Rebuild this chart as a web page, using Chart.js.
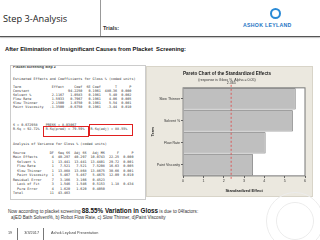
<!DOCTYPE html>
<html>
<head>
<meta charset="utf-8">
<script src="https://cdn.jsdelivr.net/npm/chart.js@4"></script>
<style>
  body { margin: 0; width: 320px; height: 240px; background: #fff; position: relative; overflow: hidden; font-family: "Liberation Sans", Arial, sans-serif; }
  .abs { position: absolute; white-space: nowrap; }
  #title { left: 3px; top: 12px; font-size: 9.2px; font-family: "Open Sans", sans-serif; color: #222; }
  #vline { left: 100px; top: 0; width: 1px; height: 36px; background: #999; }
  #hline { left: 0; top: 36px; width: 320px; height: 1px; background: #555; box-shadow: 0 1px 1px #bbb; }
  #trials { left: 103px; top: 25px; font-size: 5.5px; font-weight: bold; color: #333; }
  #logoTxt { left: 243px; top: 22px; font-size: 5.2px; font-weight: bold; color: #1d74c4; letter-spacing: 0.3px; }
  #logoIcon { left: 270px; top: 8px; width: 11px; height: 11px; border-radius: 50%; border: 2px solid #2a8ad6; box-sizing: border-box; }
  #sub { left: 5px; top: 46px; font-size: 5.8px; font-weight: bold; color: #111; }
  #panel { left: 10px; top: 65px; width: 134px; height: 133px; border: 1px solid #ccc; background: #fff; overflow: hidden; }
  #panelHead { left: 2px; top: -1px; font-size: 3.6px; font-weight: bold; line-height: 5px; color: #333; }
  pre { position: absolute; left: 2px; margin: 0; font-family: "DejaVu Sans Mono", monospace; font-size: 3.4px; color: #333; }
  .box { position: absolute; border: 1px solid #e02020; }
  #wrap { left: 146px; top: 66px; width: 167px; height: 131px; background: #ebe8df; border: 1px solid #d8d4c8; box-sizing: border-box; overflow: hidden; }
  #wrap canvas { position: absolute; left: -1px; top: -1px; }
  #bot1 { left: 8px; top: 207px; font-size: 4.6px; color: #333; }
  #bot1 b { font-size: 6.3px; color: #111; }
  #bot2 { left: 11px; top: 215px; font-size: 4.6px; color: #333; }
  #foot { left: 8px; top: 231px; font-size: 3.8px; color: #444; }
  .fbar { position: absolute; top: 228px; width: 1px; height: 12px; background: #777; }
  #wm { left: 266px; top: 192px; width: 56px; height: 56px; border-radius: 50%; border: 1px solid #ececec; }
  #wm2 { left: 276px; top: 202px; width: 36px; height: 36px; border-radius: 50%; border: 1px solid #ececec; }
</style>
</head>
<body>
<div class="abs" id="title">Step 3-Analysis</div>
<div class="abs" id="vline"></div>
<div class="abs" id="trials">Trials:</div>
<div class="abs" id="logoIcon"></div>
<div class="abs" id="logoTxt">ASHOK LEYLAND</div>
<div class="abs" id="hline"></div>
<div class="abs" id="sub">After Elimination of Insignificant Causes from Placket&nbsp; Screening:</div>

<div class="abs" id="panel">
  <div class="abs" id="panelHead">Placket Screening Step 2</div>
<pre style="top:10.7px;line-height:4.1px">Estimated Effects and Coefficients for Gloss % (coded units)

Term               Effect     Coef  SE Coef       T      P
Constant                   94.2250   0.1961  480.36  0.000
Solvent %          2.1167   1.0583   0.1961    5.40  0.002
Flow Rate          1.5933   0.7967   0.1961    4.06  0.005
Slow Thinner       2.1500   1.0750   0.1961    5.54  0.001
Paint Viscosity   -1.3500  -0.6750   0.1961   -3.44  0.010</pre>
<pre style="top:56.6px;line-height:4.7px">S = 0.672958    PRESS = 8.03067
R-Sq = 92.72%   R-Sq(pred) = 79.59%   R-Sq(adj) = 88.55%</pre>
<pre style="top:75.7px;line-height:4.5px">Analysis of Variance for Gloss % (coded units)

Source            DF  Seq SS  Adj SS   Adj MS      F      P
Main Effects       4  40.297  40.297  10.0743  22.25  0.000
  Solvent %        1  13.441  13.441  13.4401  29.72  0.001
  Flow Rate        1   7.521   7.521   7.5208  16.63  0.005
  Slow Thinner     1  13.868  13.868  13.8675  30.66  0.001
  Paint Viscosity  1   5.467   5.467   5.4675  12.09  0.010
Residual Error     7   3.166   3.166   0.4523
  Lack of Fit      3   1.546   1.546   0.5153   1.18  0.434
  Pure Error       4   1.620   1.620   0.4050
Total             11  43.463</pre>
  <div class="box" style="left:32px;top:60px;width:44px;height:9px"></div>
  <div class="box" style="left:78px;top:58px;width:42px;height:10px"></div>
</div>

<div class="abs" id="wrap"><canvas id="canvasPareto" width="167" height="131"></canvas></div>

<div class="abs" id="bot1">Now according to placket screening <b>88.55% Variation in Gloss</b> is due to 04factors:</div>
<div class="abs" id="bot2">a)ED Bath Solvent%, b) Robot Flow Rate, c) Slow Thinner, d)Paint Viscosity</div>
<div class="abs" id="wm"></div>
<div class="abs" id="wm2"></div>
<div class="fbar" style="left:17px"></div>
<div class="fbar" style="left:43px"></div>
<div class="abs" id="foot">19<span style="margin-left:12px">3/3/2017</span><span style="margin-left:12px">Ashok Leyland Presentation</span></div>

<script>
const terms = ['Slow Thinner', 'Solvent %', 'Flow Rate', 'Paint Viscosity'];
const effects = [5.54, 5.40, 4.06, 3.44];
const xTicks = [0, 1, 2, 3, 4, 5, 6];
const critical = 2.365;

const refLine = {
    id: 'refLine',
    beforeDraw(chart) {
        const { ctx, chartArea } = chart;
        ctx.save();
        ctx.fillStyle = '#fff';
        ctx.fillRect(chartArea.left, chartArea.top, chartArea.right - chartArea.left, chartArea.bottom - chartArea.top);
        ctx.restore();
    },
    afterDatasetsDraw(chart) {
        const { ctx, chartArea } = chart;
        const x = chart.scales.x.getPixelForValue(critical);
        ctx.save();
        ctx.strokeStyle = '#e04040';
        ctx.lineWidth = 0.8;
        ctx.setLineDash([2, 2]);
        ctx.beginPath();
        ctx.moveTo(x, chartArea.top - 3);
        ctx.lineTo(x, chartArea.bottom + 4);
        ctx.stroke();
        ctx.setLineDash([]);
        ctx.fillStyle = '#333';
        ctx.font = '3.6px "Liberation Sans"';
        ctx.textAlign = 'center';
        ctx.fillText(critical.toFixed(3), x, chartArea.top - 4);
        ctx.strokeStyle = '#777';
        ctx.lineWidth = 1;
        ctx.strokeRect(chartArea.left, chartArea.top, chartArea.right - chartArea.left, chartArea.bottom - chartArea.top);
        ctx.restore();
    }
};

new Chart(document.getElementById('canvasPareto'), {
    type: 'bar',
    data: {
        labels: terms,
        datasets: [{
            data: effects,
            backgroundColor: '#bfbfbf',
            borderColor: '#555',
            borderWidth: 0.7,
            categoryPercentage: 1,
            barPercentage: 0.96
        }]
    },
    options: {
        indexAxis: 'y',
        responsive: false,
        animation: false,
        layout: { padding: { top: 2, right: 8, bottom: 3, left: 3 } },
        plugins: {
            legend: { display: false },
            tooltip: { enabled: false },
            title: {
                display: true,
                text: 'Pareto Chart of the Standardized Effects',
                color: '#222',
                font: { size: 4.6, weight: 'bold', family: 'Liberation Sans' },
                padding: { top: 3, bottom: 1 }
            },
            subtitle: {
                display: true,
                text: '(response is Gloss %, Alpha = 0.05)',
                color: '#333',
                font: { size: 3.6, family: 'Liberation Sans' },
                padding: { bottom: 6 }
            }
        },
        scales: {
            x: {
                min: 0,
                max: 6,
                afterBuildTicks(axis) { axis.ticks = xTicks.map(v => ({ value: v })); },
                grid: { drawOnChartArea: false, tickLength: 2, color: '#555' },
                border: { display: false },
                ticks: { color: '#333', font: { size: 3.6, family: 'Liberation Sans' }, padding: 1 },
                title: { display: true, text: 'Standardized Effect', color: '#222', font: { size: 4, weight: 'bold', family: 'Liberation Sans' }, padding: { top: 4, bottom: 1 } }
            },
            y: {
                grid: { drawOnChartArea: false, tickLength: 2, color: '#555', offset: false },
                border: { display: false },
                ticks: { color: '#333', font: { size: 3.6, family: 'Liberation Sans' }, padding: 1 },
                title: { display: true, text: 'Term', color: '#222', font: { size: 4, weight: 'bold', family: 'Liberation Sans' }, padding: 1 }
            }
        }
    },
    plugins: [refLine]
});
</script>
</body>
</html>
